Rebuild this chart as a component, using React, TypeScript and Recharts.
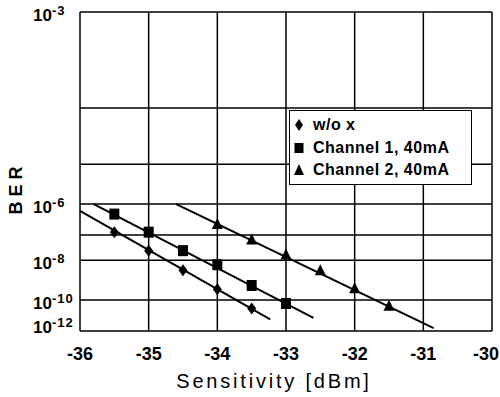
import { ComposedChart, Line, Scatter, XAxis, YAxis, CartesianGrid, Legend } from "recharts";

const SENS_TICKS = [-36, -35, -34, -33, -32, -31, -30];
const BER_DECADES = [-3, -4, -5, -6, -7, -8, -9, -10, -11, -12];
const BER_LABELED = [-3, -6, -8, -10, -12];

// measured points: sensitivity [dBm] and log10(BER)
const WO_X_DBM = [-35.5, -35, -34.5, -34, -33.5];
const WO_X_BER = [-6.9, -7.6, -8.45, -9.4, -10.5];
const CH1_DBM = [-35.5, -35, -34.5, -34, -33.5, -33];
const CH1_BER = [-6.3, -6.9, -7.6, -8.2, -9.2, -10.2];
const CH2_DBM = [-34, -33.5, -33, -32.5, -32, -31.5];
const CH2_BER = [-6.65, -7.2, -7.8, -8.5, -9.4, -10.4];

// fitted lines (end points)
const WO_X_FIT_DBM = [-36, -33.23];
const WO_X_FIT_BER = [-6.2, -11.2];
const CH1_FIT_DBM = [-35.8, -32.6];
const CH1_FIT_BER = [-6.0, -11.1];
const CH2_FIT_DBM = [-34.6, -30.85];
const CH2_FIT_BER = [-6.0, -11.8];

const FONT = "'Liberation Sans', Arial, Helvetica, sans-serif";

// BER paper: axis position = log10(-log10(BER) - 2), 10^-3 -> 0, 10^-12 -> 1
const berAxis = (exp: number) => Math.log10(-exp - 2);
const axisToExp = (v: number) => Math.round(-(2 + Math.pow(10, v)));

const toPoints = (xs: number[], es: number[]) => xs.map((x, i) => ({ x, y: berAxis(es[i]) }));

const woX = toPoints(WO_X_DBM, WO_X_BER);
const ch1 = toPoints(CH1_DBM, CH1_BER);
const ch2 = toPoints(CH2_DBM, CH2_BER);
const woXFit = toPoints(WO_X_FIT_DBM, WO_X_FIT_BER);
const ch1Fit = toPoints(CH1_FIT_DBM, CH1_FIT_BER);
const ch2Fit = toPoints(CH2_FIT_DBM, CH2_FIT_BER);

const Diamond = ({ cx, cy }: any) => (
  <polygon points={`${cx},${cy - 6} ${cx + 4.5},${cy} ${cx},${cy + 6} ${cx - 4.5},${cy}`} fill="#000" />
);
const Square = ({ cx, cy }: any) => <rect x={cx - 5} y={cy - 5.5} width={10} height={11} fill="#000" />;
const Triangle = ({ cx, cy }: any) => (
  <polygon points={`${cx},${cy - 7} ${cx + 5.5},${cy + 4} ${cx - 5.5},${cy + 4}`} fill="#000" />
);

function BerTick({ x, y, payload }: any) {
  const exp = axisToExp(payload.value);
  if (!BER_LABELED.includes(exp)) return <g />;
  return (
    <text x={x - 47} y={Math.min(y + 9, 333)} fontFamily={FONT} fontSize={17} fontWeight="bold" fill="#000" textAnchor="start">
      10
      <tspan dy={-6} fontSize={13} letterSpacing={1}>
        {exp}
      </tspan>
    </text>
  );
}

function SensTick({ x, y, payload }: any) {
  // last label sits against the page edge in the original
  return (
    <text x={Math.min(x, 486)} y={y + 29} fontFamily={FONT} fontSize={18} fontWeight="bold" fill="#000" textAnchor="middle">
      {payload.value}
    </text>
  );
}

function LegendBox() {
  const rows = [
    { label: "w/o x", mark: <polygon points="6,1 10,7 6,13 2,7" fill="#000" /> },
    { label: "Channel 1, 40mA", mark: <rect x={1.5} y={2} width={9} height={10} fill="#000" /> },
    { label: "Channel 2, 40mA", mark: <polygon points="6,1 11,12 1,12" fill="#000" /> },
  ];
  return (
    <div
      style={{
        border: "1.5px solid #000",
        background: "#fff",
        width: 183,
        height: 75,
        boxSizing: "border-box",
        paddingTop: 3,
        paddingLeft: 3,
        fontFamily: FONT,
      }}
    >
      {rows.map((r) => (
        <div key={r.label} style={{ display: "flex", alignItems: "center", height: 22.5 }}>
          <svg width={12} height={14} style={{ marginRight: 8 }}>
            {r.mark}
          </svg>
          <span style={{ fontSize: 16, fontWeight: "bold", letterSpacing: 0.5 }}>{r.label}</span>
        </div>
      ))}
    </div>
  );
}

export default function App() {
  return (
    <div style={{ position: "absolute", left: 0, top: 0, background: "#fff" }}>
      <ComposedChart width={500} height={397} margin={{ top: 12, right: 8, left: 0, bottom: 0 }}>
        <CartesianGrid stroke="#000" strokeWidth={1.5} />
        <XAxis
          type="number"
          dataKey="x"
          domain={[-36, -30]}
          ticks={SENS_TICKS}
          height={66}
          axisLine={false}
          tickLine={false}
          tickSize={0}
          tickMargin={0}
          tick={(p: any) => <SensTick {...p} />}
          label={(p: any) => {
            const vb = p.viewBox || {};
            return (
              <text
                x={(vb.x ?? 80) + (vb.width ?? 412) / 2 - 12}
                y={388}
                fontFamily={FONT}
                fontSize={20}
                letterSpacing={2.8}
                textAnchor="middle"
                fill="#000"
              >
                Sensitivity [dBm]
              </text>
            );
          }}
        />
        <YAxis
          type="number"
          dataKey="y"
          domain={[0, 1]}
          reversed
          ticks={BER_DECADES.map(berAxis)}
          width={80}
          axisLine={false}
          tickLine={false}
          tickSize={0}
          tickMargin={0}
          tick={(p: any) => <BerTick {...p} />}
          label={() => (
            <text
              x={0}
              y={0}
              transform="translate(22, 188) rotate(-90)"
              fontFamily={FONT}
              fontSize={18}
              fontWeight="bold"
              letterSpacing={5}
              textAnchor="middle"
              fill="#000"
            >
              BER
            </text>
          )}
        />
        <Line data={woXFit} dataKey="y" stroke="#000" strokeWidth={2} dot={false} isAnimationActive={false} legendType="none" />
        <Line data={ch1Fit} dataKey="y" stroke="#000" strokeWidth={2} dot={false} isAnimationActive={false} legendType="none" />
        <Line data={ch2Fit} dataKey="y" stroke="#000" strokeWidth={2} dot={false} isAnimationActive={false} legendType="none" />
        <Scatter name="w/o x" data={woX} dataKey="y" shape={(p: any) => <Diamond {...p} />} isAnimationActive={false} />
        <Scatter name="Channel 1, 40mA" data={ch1} dataKey="y" shape={(p: any) => <Square {...p} />} isAnimationActive={false} />
        <Scatter name="Channel 2, 40mA" data={ch2} dataKey="y" shape={(p: any) => <Triangle {...p} />} isAnimationActive={false} />
        <Legend
          layout="vertical"
          align="center"
          verticalAlign="middle"
          wrapperStyle={{ left: 289, top: 110, width: 183 }}
          content={() => <LegendBox />}
        />
      </ComposedChart>
    </div>
  );
}
